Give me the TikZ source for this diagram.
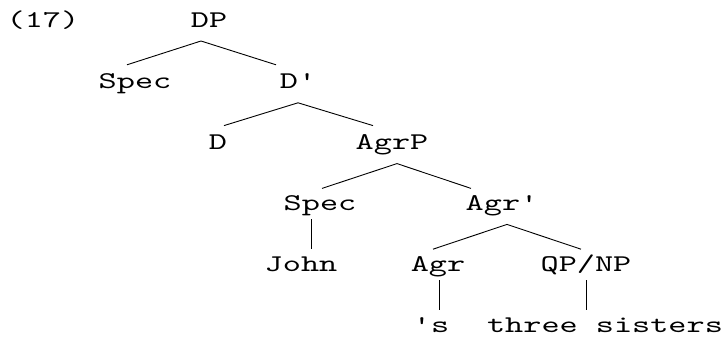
\documentclass[tikz,border=0pt]{standalone}
\usepackage{fontspec}
\newfontfamily\treefam[FakeStretch=1.44]{lmmono10-regular.otf}
\newcommand\treefont{\treefam\fontsize{24}{24}\selectfont}
\usepackage{tikz}
\tikzset{
  cat/.style={anchor=base,inner sep=0pt,font=\treefont},
  branch/.style={line width=0.9pt,draw=black}
}

\begin{document}
\begin{tikzpicture}[x=1pt,y=-1pt]
      \useasboundingbox (0,0) rectangle (726,339);
      \node[cat] (ex) at (43,28) {(17)};
      \node[cat] (DP) at (209,28) {DP};
      \node[cat] (spec1) at ([shift={(-74,60.8)}]DP.base) {Spec};
      \node[cat] (Dbar) at ([shift={(89,60.8)}]DP.base) {D'};
      \node[cat] (D) at ([shift={(-80,60.8)}]Dbar.base) {D};
      \node[cat] (AgrP) at ([shift={(94,60.8)}]Dbar.base) {AgrP};
      \node[cat] (spec2) at ([shift={(-72,60.8)}]AgrP.base) {Spec};
      \node[cat] (Agrbar) at ([shift={(110,60.8)}]AgrP.base) {Agr'};
      \node[cat] (John) at ([shift={(-19,60.8)}]spec2.base) {John};
      \node[cat] (Agr) at ([shift={(-64,60.8)}]Agrbar.base) {Agr};
      \node[cat] (QPNP) at ([shift={(84,60.8)}]Agrbar.base) {QP/NP};
      \node[cat] (poss) at ([shift={(-7,60.8)}]Agr.base) {'s};
      \node[cat] (sisters) at ([shift={(19,60.8)}]QPNP.base) {three sisters};
      % branches
      \draw[branch] ([shift={(-8,-24)}]spec1.base) -- ([shift={(-8,13)}]DP.base) -- ([shift={(-22,-24)}]Dbar.base);
      \draw[branch] ([shift={(6,-24)}]D.base) -- ([shift={(0,14)}]Dbar.base) -- ([shift={(-19,-24)}]AgrP.base);
      \draw[branch] ([shift={(2,-22)}]spec2.base) -- ([shift={(5,14)}]AgrP.base) -- ([shift={(-31,-22)}]Agrbar.base);
      \draw[branch] ([shift={(-5,-22)}]Agr.base) -- ([shift={(5,14)}]Agrbar.base) -- ([shift={(-5,-22)}]QPNP.base);
      \draw[branch] ([shift={(-9,9)}]spec2.base) -- ([shift={(10,-22)}]John.base);
      \draw[branch] ([shift={(1,9)}]Agr.base) -- ([shift={(8,-22)}]poss.base);
      \draw[branch] ([shift={(0,9)}]QPNP.base) -- ([shift={(-19,-22)}]sisters.base);
    \end{tikzpicture}
\end{document}
